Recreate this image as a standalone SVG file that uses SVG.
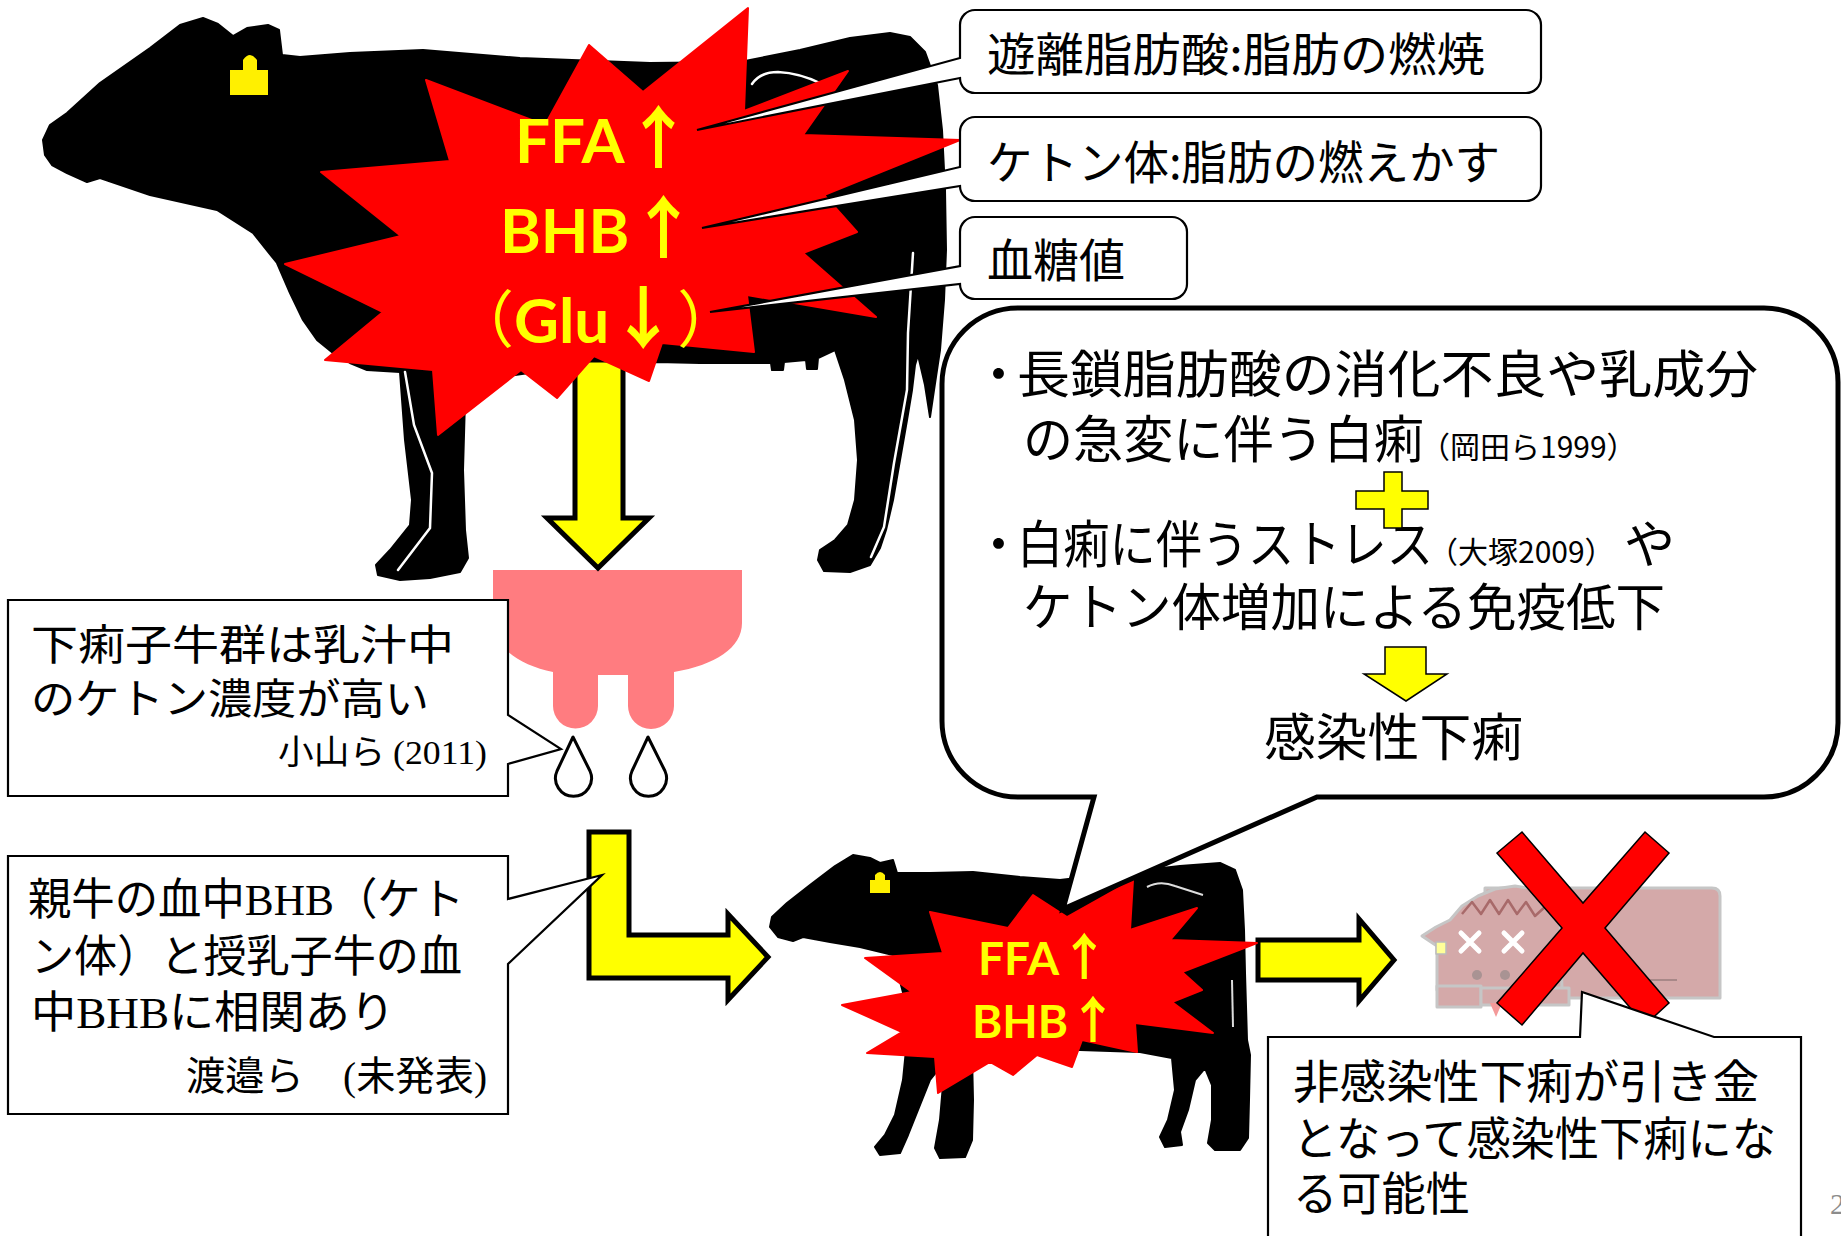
<svg xmlns="http://www.w3.org/2000/svg" width="1841" height="1236" viewBox="0 0 1841 1236">
  <style>
    .jp { font-family: "Noto Sans CJK JP", sans-serif; fill: #000; }
    .ser { font-family: "Liberation Serif", "Noto Sans CJK JP", serif; }
    .hot { font-family: Lato, "Noto Sans CJK JP", sans-serif; font-weight: 700; fill: #FFFF00; }
    .arw { font-family: "Noto Sans CJK JP", sans-serif; font-weight: 700; }
    .par { font-family: "Noto Sans CJK JP", sans-serif; font-weight: 400; }
    .sil { fill: #000; stroke: #000; stroke-width: 2; stroke-linejoin: round; }
    .hl { fill: none; stroke: #fff; stroke-width: 2.5; stroke-linecap: round; }
    .burst { fill: #FF0000; stroke: #FF0000; stroke-width: 2; stroke-linejoin: round; }
    .note { fill: #fff; stroke: #000; stroke-width: 2.2; stroke-linejoin: miter; }
    .arrow { fill: #FFFF00; stroke: #000; stroke-width: 5; stroke-linejoin: miter; }
    .tag { fill: #FFF000; }
  </style>

  <rect width="1841" height="1236" fill="#fff"/>

  <!-- adult cow silhouette -->
  <g id="cow">
    <path class="sil" d="M835,350 L845,380 L855,420 L858,460 L855,500 L848,525 L835,540 L820,550 L818,560 L824,571 L850,572 L870,565 L880,548 L886,530 L893,500 L900,460 L907,420 L912,390 L915,365 L918,355 L925,385 L930,417 L934,390 L940,350 L944,300 L946,250 L945,190 L942,130 L937,85 L925,52 L910,37 L890,33 L850,38 L800,50 L740,62 L650,63 L520,58 L423,50 L350,53 L300,57 L282,55 L279,30 L268,25 L247,28 L233,36 L218,24 L203,18 L180,25 L150,48 L100,83 L67,113 L50,125 L43,140 L45,155 L52,165 L67,173 L87,182 L100,178 L150,195 L217,210 L253,233 L277,263 L290,293 L303,320 L317,340 L333,353 L350,363 L367,370 L400,372 L405,440 L412,500 L410,525 L390,550 L376,565 L378,575 L400,580 L430,578 L460,572 L468,558 L465,530 L463,470 L465,400 L480,380 L550,370 L657,362 L700,363 L760,363 L771,363 L772,370 L783,370 L784,362 L806,360 L807,369 L817,369 L818,358 Z"/>
    <path class="tag" d="M230,70 H243 V60 Q250,50 257,60 V70 H268 V95 H230 Z"/>
    <path class="hl" d="M752,84 Q760,72 778,72 Q800,73 822,84"/>
    <path class="hl" d="M405,372 L414,425 L432,473 L430,528 L398,570"/>
    <path class="hl" d="M913,253 L908,333 L907,390 L894,463 L884,527 L871,557"/>
  </g>

  <!-- calf silhouette -->
  <g id="calf">
    <path class="sil" d="M772,917 L787,903 L810,885 L835,866 L853,855 L870,858 L880,863 L893,860 L897,873 L930,873 L973,872 L1020,877 L1060,880 L1127,872 L1180,866 L1220,863 L1235,870 L1242,890 L1244,930 L1245,973 L1247,1040 L1250,1055 L1249,1100 L1248,1138 L1240,1150 L1215,1150 L1208,1143 L1212,1120 L1212,1085 L1205,1068 L1195,1080 L1188,1110 L1180,1132 L1182,1145 L1165,1147 L1160,1137 L1168,1120 L1175,1090 L1172,1058 L1140,1052 L1080,1050 L1000,1050 L972,1055 L973,1100 L972,1140 L965,1157 L940,1158 L935,1148 L940,1120 L943,1085 L938,1070 L930,1080 L918,1110 L908,1135 L900,1153 L880,1155 L875,1147 L885,1135 L895,1115 L903,1080 L907,1040 L905,1000 L893,955 L860,947 L830,942 L803,937 L793,941 L778,937 L770,927 Z"/>
    <path class="tag" d="M870,880 H875 V875 Q880,869 885,875 V880 H890 V893 H870 Z"/>
    <path fill="none" stroke="#ddd" stroke-width="2" d="M1147,887 Q1160,880 1175,886 L1203,895"/>
    <path fill="none" stroke="#ddd" stroke-width="2" d="M1232,980 L1233,1027"/>
  </g>

  <!-- fallen calf, faded -->
  <g id="dead-calf" stroke="#C6C6C6" stroke-width="3" stroke-linejoin="round">
    <path fill="#D4A9A9" d="M1485,888 H1712 Q1720,888 1720,896 V998 H1485 Z"/>
    <path fill="#D4A9A9" d="M1422,936 L1436,927 L1450,920 L1462,906 L1478,896 L1495,889 L1515,886 L1535,889 L1550,900 L1560,916 L1562,990 L1437,990 L1437,946 Z"/>
    <rect x="1437" y="986" width="44" height="21" fill="#D4A9A9"/>
    <rect x="1481" y="988" width="88" height="17" fill="#D4A9A9"/>
    <path d="M1490,1003 L1502,1003 L1496,1017 Z" fill="#F49A9A" stroke="none"/>
    <polyline fill="none" stroke="#A86A6A" stroke-width="2.5" points="1462,914 1472,902 1481,914 1490,900 1499,914 1508,900 1517,914 1526,902 1535,916 1546,906 1556,918"/>
    <g stroke="#fff" stroke-width="5" stroke-linecap="round">
      <path d="M1461,933 L1479,951 M1479,933 L1461,951"/>
      <path d="M1504,933 L1522,951 M1522,933 L1504,951"/>
    </g>
    <circle cx="1477" cy="975" r="5" fill="#A99393" stroke="none"/>
    <circle cx="1505" cy="975" r="5" fill="#A99393" stroke="none"/>
    <rect x="1436" y="942" width="10" height="12" fill="#FFFF99" stroke="#BBB" stroke-width="1.5"/>
    <path d="M1633,980 H1677" stroke="#A88888" stroke-width="2"/>
  </g>

  <!-- udder with milk drops -->
  <g id="udder">
    <path fill="#FF7C80" d="M493,570 H742 V623 C742,648 715,665 674,672 V706 A23,23 0 0 1 628,706 V675 H598 V706 A22.5,22.5 0 0 1 553,706 V672 C520,665 493,648 493,620 Z"/>
    <g fill="#fff" stroke="#000" stroke-width="3" stroke-linejoin="round">
      <path d="M573,737 L557,771 A18,18 0 1 0 590,771 Z"/>
      <path d="M648,737 L632,771 A18,18 0 1 0 665,771 Z"/>
    </g>
  </g>

  <!-- flow arrows -->
  <g id="connectors">
    <polygon class="arrow" points="575,360 623,360 623,518 649,518 598,568 547,518 575,518"/>
    <polygon class="arrow" points="589,832 629,832 629,935 728,935 728,914 768,957 728,1000 728,978 589,978"/>
    <polygon class="arrow" points="1258,940 1359,940 1359,919 1394,960 1359,1001 1359,980 1258,980"/>
  </g>

  <!-- blood markers on the cow -->
  <g id="burst-cow">
    <polygon class="burst" points="748,8 744,111 848,71 803,135 960,140 824,195 857,232 803,253 876,317 747,295 754,352 662,343 649,381 594,356 557,398 521,370 438,435 433,370 325,360 383,312 285,264 401,236 321,172 450,161 426,80 545,125 589,45 643,92"/>
    <text class="hot" x="515" y="163" font-size="62">FFA<tspan class="arw" font-size="68">↑</tspan></text>
    <text class="hot" x="500" y="253" font-size="62">BHB<tspan class="arw" font-size="68">↑</tspan></text>
    <text class="hot" x="452" y="343" font-size="62"><tspan class="par">（</tspan>Glu<tspan class="arw" font-size="68">↓</tspan><tspan class="par">）</tspan></text>
  </g>

  <!-- blood markers on the calf -->
  <g id="burst-calf">
    <polygon class="burst" points="1033,895 1067,917 1133,880 1130,930 1197,908 1170,940 1257,943 1182,972 1202,990 1172,1002 1213,1033 1135,1023 1137,1052 1082,1040 1072,1067 1037,1055 1013,1075 990,1062 938,1093 935,1057 867,1053 902,1032 842,1005 912,992 865,958 943,953 930,912 1008,928"/>
    <text class="hot" x="978" y="975" font-size="46">FFA<tspan class="arw" font-size="50">↑</tspan></text>
    <text class="hot" x="972" y="1038" font-size="46">BHB<tspan class="arw" font-size="50">↑</tspan></text>
  </g>

  <!-- callouts explaining each marker -->
  <g id="note-ffa">
    <path class="note" d="M975,10 H1526 A15,15 0 0 1 1541,25 V78 A15,15 0 0 1 1526,93 H975 A15,15 0 0 1 960,78 L697,130 L960,58 V25 A15,15 0 0 1 975,10 Z"/>
    <text class="jp" x="987" y="71" font-size="46" textLength="498" lengthAdjust="spacingAndGlyphs">遊離脂肪酸:脂肪の燃焼</text>
  </g>
  <g id="note-ketone">
    <path class="note" d="M975,117 H1526 A15,15 0 0 1 1541,132 V186 A15,15 0 0 1 1526,201 H975 A15,15 0 0 1 960,186 L702,228 L960,167 V132 A15,15 0 0 1 975,117 Z"/>
    <text class="jp" x="987" y="179" font-size="46" textLength="513" lengthAdjust="spacingAndGlyphs">ケトン体:脂肪の燃えかす</text>
  </g>
  <g id="note-glucose">
    <path class="note" d="M975,217 H1172 A15,15 0 0 1 1187,232 V284 A15,15 0 0 1 1172,299 H975 A15,15 0 0 1 960,284 L710,312 L960,266 V232 A15,15 0 0 1 975,217 Z"/>
    <text class="jp" x="987" y="277" font-size="46" textLength="138" lengthAdjust="spacingAndGlyphs">血糖値</text>
  </g>

  <!-- left-hand notes -->
  <g id="note-milk">
    <path class="note" d="M8,600 H508 V715 L561,749 L508,764 V796 H8 Z"/>
    <text class="jp" x="31" y="660" font-size="42" textLength="423" lengthAdjust="spacingAndGlyphs">下痢子牛群は乳汁中</text>
    <text class="jp" x="31" y="714" font-size="42" textLength="398" lengthAdjust="spacingAndGlyphs">のケトン濃度が高い</text>
    <text class="jp" x="278" y="764" font-size="34" textLength="209" lengthAdjust="spacingAndGlyphs">小山ら <tspan class="ser">(2011)</tspan></text>
  </g>
  <g id="note-blood">
    <path class="note" d="M8,856 H508 V899 L602,875 L508,964 V1114 H8 Z"/>
    <text class="jp" x="28" y="915" font-size="44" textLength="436" lengthAdjust="spacingAndGlyphs">親牛の血中<tspan class="ser">BHB</tspan>（ケト</text>
    <text class="jp" x="31" y="972" font-size="44" textLength="431" lengthAdjust="spacingAndGlyphs">ン体）と授乳子牛の血</text>
    <text class="jp" x="31" y="1028" font-size="44" textLength="364" lengthAdjust="spacingAndGlyphs">中<tspan class="ser">BHB</tspan>に相関あり</text>
    <text class="jp" x="186" y="1090" font-size="40" textLength="301" lengthAdjust="spacingAndGlyphs">渡邉ら　<tspan class="ser">(</tspan>未発表<tspan class="ser">)</tspan></text>
  </g>

  <!-- speech bubble from the calf -->
  <g id="bubble">
    <path fill="#fff" stroke="#000" stroke-width="5" stroke-linejoin="miter" d="M1018,308 H1764 A74,74 0 0 1 1838,382 V723 A74,74 0 0 1 1764,797 H1317 L1063,909 L1094,797 H1018 A76,76 0 0 1 942,721 V384 A76,76 0 0 1 1018,308 Z"/>
    <text class="jp" font-size="51"><tspan x="973" y="393">・</tspan><tspan x="1017" y="393" textLength="741" lengthAdjust="spacingAndGlyphs">長鎖脂肪酸の消化不良や乳成分</tspan></text>
    <text class="jp" font-size="51"><tspan x="1023" y="458" textLength="401" lengthAdjust="spacingAndGlyphs">の急変に伴う白痢</tspan><tspan x="1420" y="458" font-size="30">（岡田ら1999）</tspan></text>
    <text class="jp" font-size="51"><tspan x="973" y="563">・</tspan><tspan x="1017" y="563" textLength="416" lengthAdjust="spacingAndGlyphs">白痢に伴うストレス</tspan><tspan x="1428" y="563" font-size="30">（大塚2009）</tspan><tspan x="1624" y="563">や</tspan></text>
    <text class="jp" x="1023" y="626" font-size="51" textLength="642" lengthAdjust="spacingAndGlyphs">ケトン体増加による免疫低下</text>
    <path fill="#FFFF00" stroke="#000" stroke-width="1.5" d="M1384,472 H1402 V491 H1428 V509 H1402 V528 H1384 V509 H1356 V491 H1384 Z"/>
    <polygon fill="#FFFF00" stroke="#000" stroke-width="1.5" points="1385,647 1426,647 1426,674 1447,674 1406,701 1364,674 1385,674"/>
    <text class="jp" x="1264" y="756" font-size="51" textLength="259" lengthAdjust="spacingAndGlyphs">感染性下痢</text>
  </g>

  <!-- cross over the fallen calf -->
  <g id="cross">
    <polygon fill="#FF0000" stroke="#000" stroke-width="1.5" points="1497,853 1522,832 1583,903 1645,832 1669,853 1605,928 1669,1003 1645,1025 1583,953 1522,1025 1497,1003 1562,928"/>
  </g>

  <!-- conclusion note -->
  <g id="note-trigger">
    <path class="note" d="M1268,1250 V1037 H1580 L1582,992 L1714,1037 H1801 V1250"/>
    <text class="jp" x="1293" y="1098" font-size="46" textLength="466" lengthAdjust="spacingAndGlyphs">非感染性下痢が引き金</text>
    <text class="jp" x="1293" y="1155" font-size="46" textLength="483" lengthAdjust="spacingAndGlyphs">となって感染性下痢にな</text>
    <text class="jp" x="1293" y="1210" font-size="46" textLength="177" lengthAdjust="spacingAndGlyphs">る可能性</text>
  </g>

  <text x="1830" y="1214" font-family="Liberation Serif, serif" font-size="30" fill="#8C8C8C">2</text>
</svg>
